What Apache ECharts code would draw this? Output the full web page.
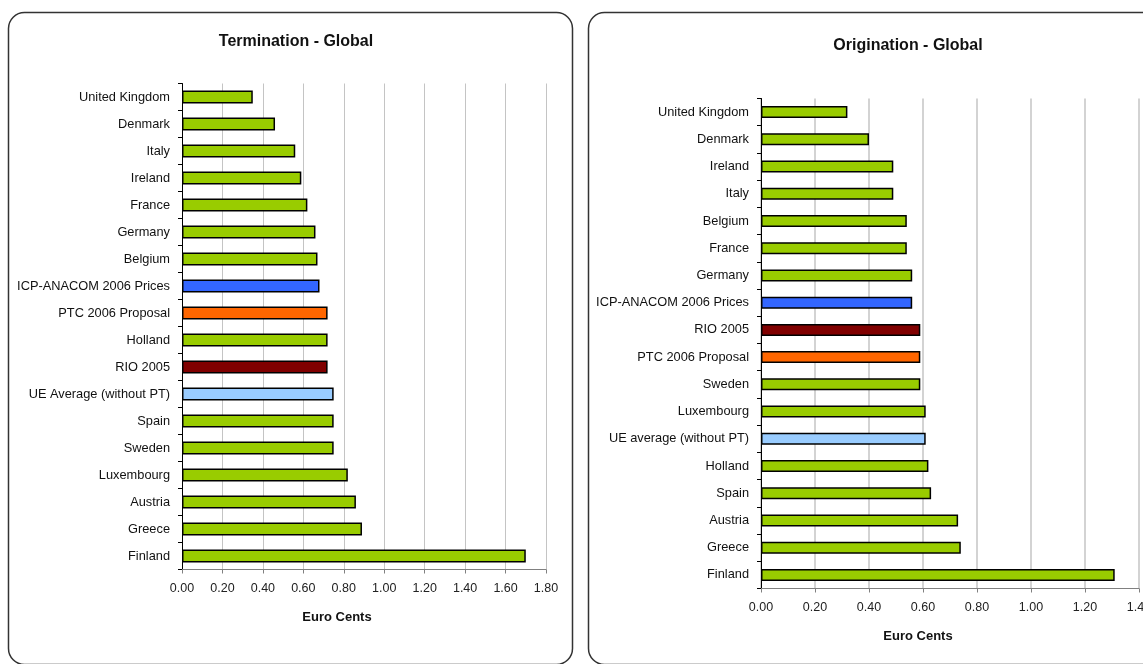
<!DOCTYPE html>
<html>
<head>
<meta charset="utf-8">
<script src="https://cdn.jsdelivr.net/npm/echarts@6/dist/echarts.min.js"></script>
<style>
  html, body { margin: 0; padding: 0; background: #fff; }
  #chart { width: 1143px; height: 664px; }
</style>
</head>
<body>
<div id="chart"></div>
<script>
// Termination - Global (euro cents)
const terminationCategories = [
  'United Kingdom', 'Denmark', 'Italy', 'Ireland', 'France', 'Germany', 'Belgium',
  'ICP-ANACOM 2006 Prices', 'PTC 2006 Proposal', 'Holland', 'RIO 2005',
  'UE Average (without PT)', 'Spain', 'Sweden', 'Luxembourg', 'Austria', 'Greece', 'Finland'
];
const terminationValues = [
  0.35, 0.46, 0.56, 0.59, 0.62, 0.66, 0.67,
  0.68, 0.72, 0.72, 0.72,
  0.75, 0.75, 0.75, 0.82, 0.86, 0.89, 1.70
];

// Origination - Global (euro cents)
const originationCategories = [
  'United Kingdom', 'Denmark', 'Ireland', 'Italy', 'Belgium', 'France', 'Germany',
  'ICP-ANACOM 2006 Prices', 'RIO 2005', 'PTC 2006 Proposal', 'Sweden', 'Luxembourg',
  'UE average (without PT)', 'Holland', 'Spain', 'Austria', 'Greece', 'Finland'
];
const originationValues = [
  0.32, 0.40, 0.49, 0.49, 0.54, 0.54, 0.56,
  0.56, 0.59, 0.59, 0.59, 0.61,
  0.61, 0.62, 0.63, 0.73, 0.74, 1.31
];

const countryColor = '#99CC00';
const referenceColors = {
  'ICP-ANACOM 2006 Prices': '#3366FF',
  'PTC 2006 Proposal': '#FF6600',
  'RIO 2005': '#800000',
  'UE Average (without PT)': '#99CCFF',
  'UE average (without PT)': '#99CCFF'
};

const font = 'Liberation Sans, Arial, sans-serif';

function barData(categories, values) {
  return values.map((v, i) => ({
    value: v,
    itemStyle: { color: referenceColors[categories[i]] || countryColor }
  }));
}

function valueAxis(gridIndex, max, gridWidth, nameShift) {
  return {
    type: 'value', gridIndex: gridIndex, min: 0, max: max, interval: 0.2,
    name: 'Euro Cents', nameLocation: 'middle', nameGap: 41,
    nameTextStyle: {
      fontFamily: font, fontSize: 13, fontWeight: 'bold', color: '#111',
      padding: [0, nameShift * 2, 0, 0]
    },
    axisLine: { show: true, lineStyle: { color: '#808080', width: 1 } },
    axisTick: { show: true, length: 4, lineStyle: { color: '#808080' } },
    axisLabel: {
      fontFamily: font, fontSize: 12.5, color: '#222', margin: 13,
      formatter: v => v.toFixed(2)
    },
    splitLine: { show: true, lineStyle: { color: '#c4c4c4', width: gridWidth } }
  };
}

function categoryAxis(gridIndex, categories, labelGap) {
  return {
    type: 'category', gridIndex: gridIndex, data: categories, inverse: true,
    axisLine: { show: true, lineStyle: { color: '#000', width: 1 } },
    axisTick: { show: true, length: 4, lineStyle: { color: '#000' } },
    axisLabel: { fontFamily: font, fontSize: 12.8, color: '#111', margin: labelGap },
    splitLine: { show: false }
  };
}

const chart = echarts.init(document.getElementById('chart'), null, { renderer: 'canvas' });

chart.setOption({
  animation: false,
  backgroundColor: '#fff',
  graphic: [
    {
      type: 'rect', z: -1,
      shape: { x: 8.5, y: 12.5, width: 564, height: 652, r: 16 },
      style: { fill: '#fff', stroke: '#333', lineWidth: 1.5 }
    },
    {
      type: 'rect', z: -1,
      shape: { x: 588.5, y: 12.5, width: 600, height: 652, r: 16 },
      style: { fill: '#fff', stroke: '#333', lineWidth: 1.5 }
    }
  ],
  title: [
    {
      text: 'Termination - Global', left: 291, top: 29, textAlign: 'center',
      textStyle: { fontFamily: font, fontSize: 16, fontWeight: 'bold', color: '#111' }
    },
    {
      text: 'Origination - Global', left: 903, top: 33, textAlign: 'center',
      textStyle: { fontFamily: font, fontSize: 16, fontWeight: 'bold', color: '#111' }
    }
  ],
  grid: [
    { left: 182, top: 83.5, width: 364, height: 486, outerBoundsMode: 'none', containLabel: false },
    { left: 761, top: 98.5, width: 378, height: 490, outerBoundsMode: 'none', containLabel: false }
  ],
  xAxis: [
    valueAxis(0, 1.8, 1, 27),
    valueAxis(1, 1.4, 1.5, 32)
  ],
  yAxis: [
    categoryAxis(0, terminationCategories, 12),
    categoryAxis(1, originationCategories, 12)
  ],
  series: [
    {
      type: 'bar', xAxisIndex: 0, yAxisIndex: 0, barWidth: 13,
      itemStyle: { borderColor: '#000', borderWidth: 1.5 },
      data: barData(terminationCategories, terminationValues)
    },
    {
      type: 'bar', xAxisIndex: 1, yAxisIndex: 1, barWidth: 12,
      itemStyle: { borderColor: '#000', borderWidth: 1.5 },
      data: barData(originationCategories, originationValues)
    }
  ]
});
</script>
</body>
</html>
